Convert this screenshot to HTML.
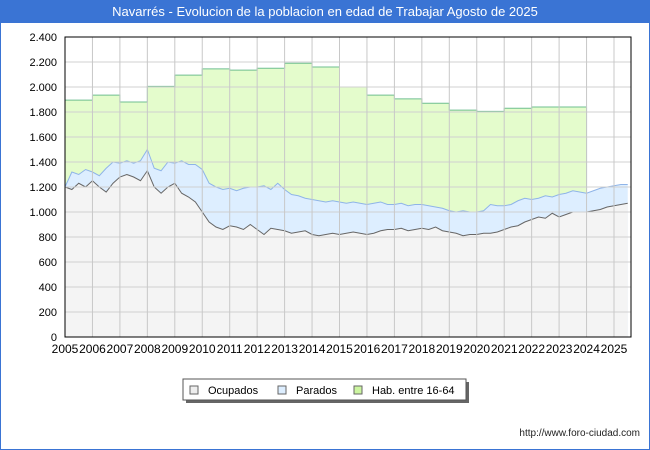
<!DOCTYPE html>
<html><head><meta charset="utf-8"><style>
body{margin:0;background:#fff;}
#wrap{position:relative;width:648px;height:448px;border:1px solid #3a74d4;overflow:hidden;font-family:"Liberation Sans","DejaVu Sans",sans-serif;}
#title{position:absolute;left:0;top:0;width:648px;height:22px;background:#3a74d4;color:#fff;font-size:13px;text-align:center;line-height:22px;}
#footer{position:absolute;right:9px;top:427px;font-size:10px;color:#222;}
</style></head><body>
<div id="wrap">
<div id="title">Navarrés - Evolucion de la poblacion en edad de Trabajar Agosto de 2025</div>
<svg id="chart" width="650" height="450" style="position:absolute;left:-1px;top:-1px"></svg>
<div id="footer">http://www.foro-ciudad.com</div>
</div>
<script>
const years=[2005,2006,2007,2008,2009,2010,2011,2012,2013,2014,2015,2016,2017,2018,2019,2020,2021,2022,2023,2024,2025];
const habValues=[1895,1935,1880,2005,2095,2145,2135,2150,2190,2160,2000,1935,1905,1870,1815,1805,1830,1840,1840];
const ocupados=[1200,1180,1230,1200,1250,1200,1160,1230,1280,1300,1280,1250,1330,1200,1150,1200,1230,1150,1120,1080,1000,920,880,860,890,880,860,900,860,820,870,860,850,830,840,850,820,810,820,830,820,830,840,830,820,830,850,860,860,870,850,860,870,860,880,850,840,830,810,820,820,830,830,840,860,880,890,920,940,960,950,990,960,980,1000,1000,1000,1010,1020,1040,1050,1060,1070];
const parados=[0,140,70,140,70,90,190,170,110,110,110,160,170,150,180,200,160,260,260,300,340,310,320,320,300,290,330,300,340,390,310,370,330,310,290,260,280,280,260,260,260,240,240,240,240,240,230,200,200,200,200,200,190,190,160,180,170,170,200,180,180,180,230,210,190,180,200,190,160,150,180,130,180,170,170,160,150,160,170,160,160,160,150];
const yTicks=[0,200,400,600,800,1000,1200,1400,1600,1800,2000,2200,2400];
const yLabels=["0","200","400","600","800","1.000","1.200","1.400","1.600","1.800","2.000","2.200","2.400"];
const L=65,R=631,T=37,B=337;
const X=t=>L+(t-2005)*27.45;
const Y=v=>B-(v/2400)*(B-T);
const svg=document.getElementById('chart');
const NS='http://www.w3.org/2000/svg';
function mk(tag,attrs,parent){const e=document.createElementNS(NS,tag);for(const k in attrs)e.setAttribute(k,attrs[k]);(parent||svg).appendChild(e);return e;}
mk('rect',{x:L,y:T,width:R-L,height:B-T,fill:'#fff'});
let d='M'+X(2005)+','+B;
habValues.forEach((v,i)=>{d+=' L'+X(years[i])+','+Y(v)+' L'+X(years[i+1])+','+Y(v);});
d+=' L'+X(years[habValues.length])+','+B+' Z';
const hab=mk('path',{d:d,fill:'#e4fccc',stroke:'none'});


let dl='M'+X(2005)+','+Y(habValues[0]);
habValues.forEach((v,i)=>{dl+=' L'+X(years[i])+','+Y(v)+' L'+X(years[i+1])+','+Y(v);});
dl+=' L'+X(years[habValues.length])+','+Y(ocupados[76]+parados[76]);
const habLine=mk('path',{d:dl,fill:'none',stroke:'#6fbf90','stroke-width':1});


const tq=i=>2005+i*0.25;
let dt='M'+X(tq(0))+','+B;
ocupados.forEach((v,i)=>{dt+=' L'+X(tq(i))+','+Y(v+parados[i]);});
dt+=' L'+X(tq(ocupados.length-1))+','+B+' Z';
const par=mk('path',{d:dt,fill:'#ddeeff',stroke:'none'});


let dtl='';
ocupados.forEach((v,i)=>{dtl+=(i?' L':'M')+X(tq(i))+','+Y(v+parados[i]);});
const parLine=mk('path',{d:dtl,fill:'none',stroke:'#8fb4e8','stroke-width':1});


let dof='M'+X(tq(0))+','+B;
ocupados.forEach((v,i)=>{dof+=' L'+X(tq(i))+','+Y(v);});
dof+=' L'+X(tq(ocupados.length-1))+','+B+' Z';
const oc=mk('path',{d:dof,fill:'#f4f4f4',stroke:'none'});


let dol='';
ocupados.forEach((v,i)=>{dol+=(i?' L':'M')+X(tq(i))+','+Y(v);});
const ocLine=mk('path',{d:dol,fill:'none',stroke:'#666','stroke-width':1});


yTicks.forEach((v,i)=>{
 const g=mk('line',{x1:L,x2:R,y1:Y(v),y2:Y(v),stroke:'#d0d0d0','stroke-width':1});
 
 
 const t=mk('text',{x:L-8,y:Y(v)+4,'text-anchor':'end','font-size':11,fill:'#000'});
 t.textContent=yLabels[i];
 
 
});
years.forEach(yr=>{
 const g=mk('line',{x1:X(yr),x2:X(yr),y1:T,y2:B,stroke:'#c8c8c8','stroke-width':1});
 
 
 const t=mk('text',{x:X(yr),y:B+16,'text-anchor':'middle','font-size':12,fill:'#000'});
 t.textContent=yr;
 
 
});
const frame=mk('path',{d:`M${L},${T} L${R},${T} L${R},${B} L${L},${B} Z`,fill:'none',stroke:'#000','stroke-width':1});


const lg=mk('g',{});


mk('rect',{x:186,y:382,width:283,height:21,fill:'#666'},lg);
mk('rect',{x:183,y:379,width:283,height:21,fill:'#fff',stroke:'#555'},lg);
const items=[["Ocupados","#eeeeee",190],["Parados","#ddeeff",278],["Hab. entre 16-64","#ccf5a0",354]];
items.forEach(it=>{
 const g=mk('g',{},lg);
 
 
 mk('rect',{x:it[2],y:386,width:8,height:8,fill:it[1],stroke:'#666'},g);
 const t=mk('text',{x:it[2]+18,y:394,'font-size':11,fill:'#000'},g);
 t.textContent=it[0];
});
</script>
</body></html>
